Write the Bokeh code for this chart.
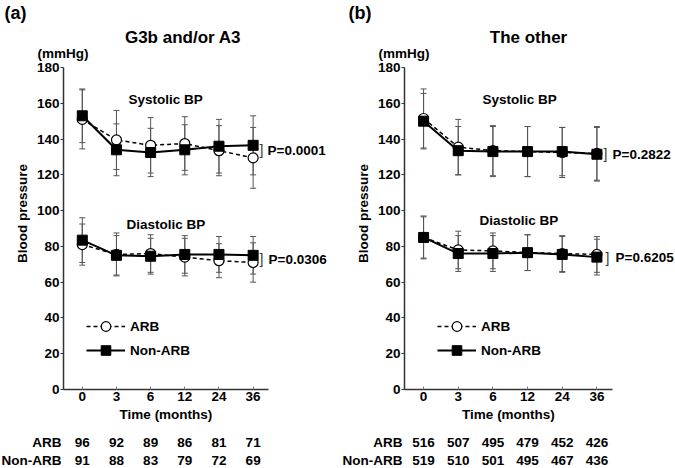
import math
from bokeh.plotting import figure
from bokeh.models import (Range1d, FixedTicker, SingleIntervalTicker, Label, Whisker,
                          TeeHead, ColumnDataSource, Legend, LegendItem)
from bokeh.layouts import row
from bokeh.embed import file_html
from bokeh.resources import INLINE

# ---------------- data ----------------
time_labels = ["0", "3", "6", "12", "24", "36"]

# (a) G3b and/or A3
sbp_arb_a = [151, 139.5, 136.5, 137.5, 133.5, 129.5]
sbp_arb_sd_a = [16.5, 16.5, 15.5, 15, 14, 17]
sbp_non_a = [153, 134, 132.5, 134, 136, 136.5]
sbp_non_sd_a = [15, 14.5, 13.5, 14, 15, 16.5]
dbp_arb_a = [81, 75.5, 76, 74, 72, 71]
dbp_arb_sd_a = [11.5, 12, 10.5, 10.5, 9.5, 11]
dbp_non_a = [83.5, 75, 74.5, 75.5, 75.5, 75]
dbp_non_sd_a = [12.5, 11, 10, 10.5, 10, 10.5]
n_arb_a = [96, 92, 89, 86, 81, 71]
n_non_a = [91, 88, 83, 79, 72, 69]
p_values_a = ["P=0.0001", "P=0.0306"]

# (b) The other
sbp_arb_b = [151.5, 135.5, 133.5, 133, 132.5, 132]
sbp_arb_sd_b = [16.5, 15.5, 14, 14, 14, 15]
sbp_non_b = [150, 133.5, 133, 133, 133, 131.5]
sbp_non_sd_b = [15.5, 13.5, 14, 14, 13.5, 15]
dbp_arb_b = [85, 78, 77.5, 76.5, 76, 75.5]
dbp_arb_sd_b = [12, 10.5, 10, 10, 10, 10]
dbp_non_b = [85, 76, 76, 76.5, 75.5, 74]
dbp_non_sd_b = [11.5, 10, 10, 10, 10, 10]
n_arb_b = [516, 507, 495, 479, 452, 426]
n_non_b = [519, 510, 501, 495, 467, 436]
p_values_b = ["P=0.2822", "P=0.6205"]

# ---------------- layout ----------------
FONT = "Liberation Sans"
FS = "13.5px"
H = 468                  # canvas height
PAGE_TOP = 0             # page y of canvas top
AX_TOP_PAGE = 67         # page y of value 180
AX_BOTTOM_PAGE = 389     # page y of value 0
X0, X1 = -0.55, 5.45     # extent of the x axis line (data)
Y0, Y1 = 0, 180          # extent of the y axis line (data)


def make_panel(letter, title, sbp, dbp, counts, pvals, page_left, width,
               axis_left_page, axis_right_page, pos):
    ppx = (axis_right_page - axis_left_page) / (X1 - X0)
    ppy = (AX_BOTTOM_PAGE - AX_TOP_PAGE) / (Y1 - Y0)
    x_start = X0 - (axis_left_page - page_left) / ppx
    x_end = X0 + (page_left + width - axis_left_page) / ppx
    y_end = Y1 + (AX_TOP_PAGE - PAGE_TOP) / ppy
    y_start = Y0 - (PAGE_TOP + H - AX_BOTTOM_PAGE) / ppy

    def dx2x(dx):
        return X0 + dx / ppx

    def py2y(py):
        return Y0 + (AX_BOTTOM_PAGE - py) / ppy

    p = figure(width=width, height=H, output_backend="svg", toolbar_location=None,
               x_range=Range1d(x_start, x_end), y_range=Range1d(y_start, y_end),
               min_border=0, outline_line_color=None,
               background_fill_color="white", border_fill_color="white")
    p.grid.visible = False

    xa = p.xaxis[0]
    xa.fixed_location = 0
    xa.bounds = (X0, X1)
    xa.ticker = FixedTicker(ticks=list(range(len(time_labels))))
    xa.major_label_overrides = {i: t for i, t in enumerate(time_labels)}
    xa.axis_label = "Time (months)"
    xa.axis_label_text_font = FONT
    xa.axis_label_text_font_style = "bold"
    xa.axis_label_text_font_size = FS
    xa.axis_label_text_color = "black"
    xa.axis_label_standoff = 3
    xa.major_label_text_font = FONT
    xa.major_label_text_font_style = "bold"
    xa.major_label_text_font_size = FS
    xa.major_label_text_color = "black"
    xa.major_label_standoff = 2
    xa.major_tick_in = 3
    xa.major_tick_out = 0
    xa.minor_tick_line_color = None
    xa.axis_line_color = "#333333"
    xa.axis_line_width = 1.5
    xa.major_tick_line_color = "#777777"

    ya = p.yaxis[0]
    ya.fixed_location = X0
    ya.bounds = (Y0, Y1)
    ya.ticker = SingleIntervalTicker(interval=20, num_minor_ticks=0)
    ya.major_label_text_font = FONT
    ya.major_label_text_font_style = "bold"
    ya.major_label_text_font_size = FS
    ya.major_label_text_color = "black"
    ya.major_label_standoff = 1
    ya.major_tick_in = 0
    ya.major_tick_out = 3
    ya.minor_tick_line_color = None
    ya.axis_line_color = "#333333"
    ya.axis_line_width = 1.5
    ya.major_tick_line_color = "#333333"

    xs = list(range(len(time_labels)))
    legend_renderers = {}
    for kind, (arb, arb_sd, non, non_sd) in (("sbp", sbp), ("dbp", dbp)):
        for name, vals, sd in (("ARB", arb, arb_sd), ("Non-ARB", non, non_sd)):
            src = ColumnDataSource(dict(x=xs, y=vals,
                                        upper=[v + s for v, s in zip(vals, sd)],
                                        lower=[v - s for v, s in zip(vals, sd)]))
            w = Whisker(source=src, base="x", upper="upper", lower="lower",
                        dimension="height", line_color="#555555", line_width=1,
                        upper_head=TeeHead(size=6, line_color="#555555", line_width=1),
                        lower_head=TeeHead(size=6, line_color="#555555", line_width=1),
                        level="underlay")
            p.add_layout(w)
        for name, vals in (("ARB", arb), ("Non-ARB", non)):
            src = ColumnDataSource(dict(x=xs, y=vals))
            if name == "ARB":
                lr = p.line("x", "y", source=src, line_color="black", line_width=1.5,
                            line_dash="4 3")
                sr = p.scatter("x", "y", source=src, marker="circle", size=10,
                               fill_color="white", line_color="black", line_width=1.2)
            else:
                lr = p.line("x", "y", source=src, line_color="black", line_width=2)
                sr = p.scatter("x", "y", source=src, marker="square", size=10,
                               fill_color="black", line_color="black")
            if kind == "sbp":
                legend_renderers[name] = [lr, sr]

    legend = Legend(items=[LegendItem(label="ARB", renderers=legend_renderers["ARB"]),
                           LegendItem(label="Non-ARB", renderers=legend_renderers["Non-ARB"])],
                    location=(axis_left_page + pos["legend_dx"] - page_left,
                              PAGE_TOP + H - 362),
                    orientation="vertical",
                    glyph_width=39, glyph_height=24, label_height=24, spacing=0,
                    padding=0, margin=0, label_standoff=5,
                    border_line_color=None, background_fill_alpha=0,
                    label_text_font=FONT, label_text_font_style="bold",
                    label_text_font_size=FS, label_text_color="black")
    p.add_layout(legend)

    def txt(x, y, text, size=FS, align="left", baseline="middle", style="bold",
            angle=0, color="black"):
        p.add_layout(Label(x=x, y=y, text=text, text_font=FONT, text_font_size=size,
                           text_font_style=style, text_align=align,
                           text_baseline=baseline, angle=angle, text_color=color))

    txt(dx2x(pos["letter_dx"]), py2y(12), letter, size="18px")
    txt(dx2x(pos["title_dx"]), py2y(37), title, size="17px", align="center")
    txt(dx2x(-26), py2y(53), "(mmHg)")
    txt(dx2x(-41), py2y(213), "Blood pressure", align="center", angle=math.pi / 2)
    txt(dx2x(pos["sys_dx"]), py2y(99), "Systolic BP")
    txt(dx2x(pos["dia_dx"]), py2y(pos["dia_y"]), "Diastolic BP")
    # p-values with brackets
    for (bx, by, tx, ty), pv in zip(pos["pv"], pvals):
        txt(dx2x(bx), py2y(by), "]", size="14px", style="normal", align="center",
            color="#333333")
        txt(dx2x(tx), py2y(ty), pv)
    # numbers at risk
    rows = (("ARB", counts[0], 442), ("Non-ARB", counts[1], 460))
    for lab, nums, py in rows:
        txt(dx2x(-2), py2y(py), lab, align="right")
        for i, n in enumerate(nums):
            txt(i, py2y(py), str(n), align="center")
    return p


pa = make_panel("(a)", "G3b and/or A3",
                (sbp_arb_a, sbp_arb_sd_a, sbp_non_a, sbp_non_sd_a),
                (dbp_arb_a, dbp_arb_sd_a, dbp_non_a, dbp_non_sd_a),
                (n_arb_a, n_non_a), p_values_a,
                page_left=0, width=341, axis_left_page=63, axis_right_page=268,
                pos=dict(letter_dx=-59, title_dx=119.5, sys_dx=65, dia_dx=63, dia_y=224,
                         legend_dx=23,
                         pv=[(198, 149, 204, 150), (198, 258, 205, 259)]))
pb = make_panel("(b)", "The other",
                (sbp_arb_b, sbp_arb_sd_b, sbp_non_b, sbp_non_sd_b),
                (dbp_arb_b, dbp_arb_sd_b, dbp_non_b, dbp_non_sd_b),
                (n_arb_b, n_non_b), p_values_b,
                page_left=341, width=334, axis_left_page=404, axis_right_page=612,
                pos=dict(letter_dx=-56, title_dx=124, sys_dx=78, dia_dx=75, dia_y=220,
                         legend_dx=33,
                         pv=[(201, 153, 208, 154), (203, 257, 211, 257)]))

layout = row(pa, pb)
open("out.html", "w").write(file_html(layout, INLINE))
